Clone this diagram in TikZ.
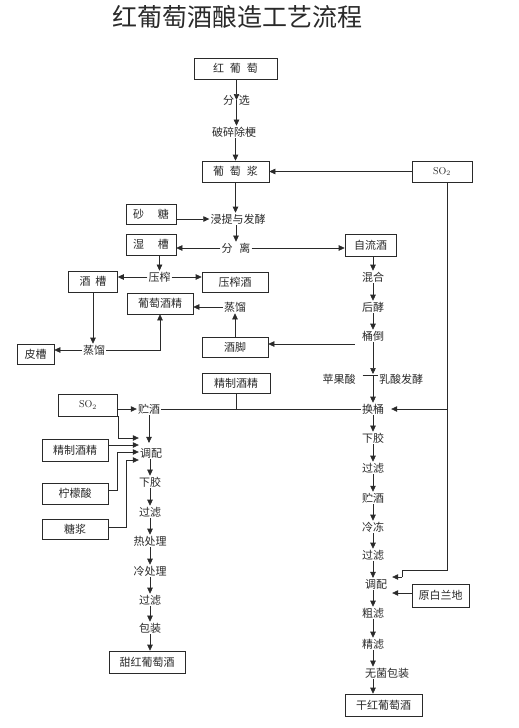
\documentclass[tikz,border=0pt]{standalone}
\usepackage{fontspec}
\newfontfamily\cjk{Noto Sans CJK SC}
\usetikzlibrary{arrows.meta,calc}
\definecolor{ink}{HTML}{2A2A2A}
\tikzset{
  box/.style={draw=ink, line width=0.6pt, inner sep=0pt, text=ink, font=\cjk\fontsize{11}{11}\selectfont},
  lbl/.style={inner sep=1pt, text=ink, font=\cjk\fontsize{11}{11}\selectfont},
  arr/.style={draw=ink, line width=0.6pt, -{Triangle[length=6pt,width=5.5pt]}},
  ln/.style={draw=ink, line width=0.6pt}
}
\begin{document}
\begin{tikzpicture}[x=1pt,y=-1pt]
\useasboundingbox[fill=white] (0,0) rectangle (519,728);
% title
\node[text=ink, font=\cjk\fontsize{25}{25}\selectfont, inner sep=0pt] (title) at (237,17) {红葡萄酒酿造工艺流程};
% top column
\node[box, minimum width=83pt, minimum height=21pt] (hpt) at (235.5,68.5) {红\hspace{6pt}葡\hspace{6pt}萄};
\node[lbl] (fx) at (236.5,100) {分\hspace{5pt}选};
\node[lbl] (psc) at (234,132) {破碎除梗};
\node[box, minimum width=67pt, minimum height=21pt] (ptj) at (235.5,171.5) {葡\hspace{6pt}萄\hspace{6pt}浆};
\node[box, minimum width=60pt, minimum height=21pt, font=\fontsize{10}{10}\selectfont] (so2a) at (442,171.5) {SO$_2$};
\node[box, minimum width=50pt, minimum height=20pt] (st) at (151,214) {砂\hspace{14pt}糖};
\node[lbl] (jt) at (238,219) {浸提与发酵};
\node[lbl] (fl) at (236,248) {分\hspace{7pt}离};
\node[box, minimum width=50pt, minimum height=21pt] (sc) at (151,244.5) {湿\hspace{14pt}槽};
\node[box, minimum width=51pt, minimum height=22pt] (zlj) at (370.5,245) {自流酒};
% press
\node[lbl] (zz) at (159.5,277) {压榨};
\node[box, minimum width=49pt, minimum height=21pt] (jc) at (93,281.5) {酒\hspace{5pt}槽};
\node[box, minimum width=66pt, minimum height=20pt] (zzj) at (235,282) {压榨酒};
\node[box, minimum width=66pt, minimum height=21pt] (pjj) at (160,303.5) {葡萄酒精};
\node[lbl] (zl2) at (235,307) {蒸馏};
\node[box, minimum width=66pt, minimum height=20pt] (jj) at (235,347) {酒脚};
\node[lbl] (zl1) at (94,350) {蒸馏};
\node[box, minimum width=37pt, minimum height=20pt] (pc) at (35.5,354) {皮槽};
% centre column
\node[lbl] (hh) at (373,277) {混合};
\node[lbl] (hj) at (373,307) {后酵};
\node[lbl] (td) at (373,336) {桶倒};
\coordinate (bar) at (373,375);
\node[lbl] (pgs) at (339,379) {苹果酸};
\node[lbl] (rsf) at (401,379) {乳酸发酵};
\node[lbl] (ht) at (373,409) {换桶};
\node[lbl] (xj2) at (373,438) {下胶};
\node[lbl] (gl3) at (373,468) {过滤};
\node[lbl] (zj2) at (373,498) {贮酒};
\node[lbl] (ld) at (373,527) {冷冻};
\node[lbl] (gl4) at (373,555) {过滤};
\node[lbl] (tp2) at (376,584) {调配};
\node[lbl] (cl) at (373,613) {粗滤};
\node[lbl] (jl) at (373,644) {精滤};
\node[lbl] (wj) at (387,673) {无菌包装};
\node[box, minimum width=77pt, minimum height=22pt] (ghp) at (383.5,705) {干红葡萄酒};
\node[box, minimum width=57pt, minimum height=23pt] (ybl) at (440.5,595.5) {原白兰地};
% left lower branch
\node[box, minimum width=68pt, minimum height=20pt] (jzjj) at (236,383) {精制酒精};
\node[box, minimum width=59pt, minimum height=22pt, font=\fontsize{10}{10}\selectfont] (so2b) at (88,405) {SO$_2$};
\node[lbl] (zj1) at (149,409) {贮酒};
\node[box, minimum width=66pt, minimum height=22pt] (jz1) at (75,450) {精制酒精};
\node[box, minimum width=66pt, minimum height=21pt] (nms) at (75,493.5) {柠檬酸};
\node[box, minimum width=66pt, minimum height=20pt] (tj) at (75,529) {糖浆};
\node[lbl] (tp1) at (151,453) {调配};
\node[lbl] (xj1) at (150,482) {下胶};
\node[lbl] (gl1) at (150,512) {过滤};
\node[lbl] (rcl) at (150,541) {热处理};
\node[lbl] (lcl) at (150,571) {冷处理};
\node[lbl] (gl2) at (150,600) {过滤};
\node[lbl] (bz) at (150,628) {包装};
\node[box, minimum width=76pt, minimum height=22pt] (thp) at (147,662) {甜红葡萄酒};
% SO2 side line coordinates
\coordinate (v2) at (447,570);
\coordinate (v3) at (402,570);
\coordinate (v4) at (402,577);

% ---- connectors: top
\draw[arr] (hpt.south -| fx.center) -- (fx.center);
\draw[arr] (fx.center) -- (fx.center |- psc.north);
\draw[arr] (psc.south -| ptj.north) -- (ptj.north);
\draw[arr] (so2a.west) -- (ptj.east);
\draw[arr] (ptj.south) -- (ptj.south |- jt.north);
\draw[arr] ([yshift=-5pt]st.east) -- (jt.west);
\draw[arr] (jt.south -| fl.north) -- (fl.north);
\draw[arr] (fl.west) -- (fl.west -| sc.east);
\draw[arr] (fl.east) -- (fl.east -| zlj.west);
\draw[arr] (zz |- sc.south) -- (zz.north);
\draw[arr] (zz.west) -- (zz.west -| jc.east);
\draw[arr] (zz.east) -- (zz.east -| zzj.west);
\draw[arr] (zl2.west) -- (zl2.west -| pjj.east);
\draw[arr] (jj.north) -- (zl2.south);
\draw[arr] (jc.south) -- (jc.south |- zl1.north);
\draw[arr] (zl1.west) -- (zl1.west -| pc.east);
\draw[arr] (zl1.east) -| (pjj.south);
% centre column
\draw[arr] (zlj.south -| hh.north) -- (hh.north);
\draw[arr] (hh.south) -- (hj.north);
\draw[arr] (hj.south) -- (td.north);
\draw[arr] ([xshift=-6pt,yshift=-8pt]td.west) -- ([yshift=3pt]jj.east);
\draw[arr] (td.south) -- ([yshift=1pt]bar);
\draw[ln] ([xshift=6pt]pgs.east |- bar) -- (rsf.west |- bar);
\draw[arr] (bar) -- (ht.north);
\draw[arr] (ht.south) -- (xj2.north);
\draw[arr] (xj2.south) -- (gl3.north);
\draw[arr] (gl3.south) -- (zj2.north);
\draw[arr] (zj2.south) -- (ld.north);
\draw[arr] (ld.south) -- (gl4.north);
\draw[arr] (gl4.south) -- (gl4.south |- tp2.north);
\draw[arr] (gl4.south |- tp2.south) -- (cl.north);
\draw[arr] (cl.south) -- (jl.north);
\draw[arr] (jl.south) -- (jl.south |- wj.north);
\draw[arr] (jl.south |- wj.south) -- (jl.south |- ghp.north);
% SO2 right line
\draw[ln] ([xshift=5pt]so2a.south) -- (v2) -- (v3) -- (v4);
\draw[arr] (v4) -- ([xshift=4pt]tp2.east |- v4);
\draw[arr] (v2 |- ht.east) -- ([xshift=6pt]ht.east);
\draw[arr] ([yshift=2.5pt]ybl.west) -- ([xshift=4pt,yshift=2.5pt]tp2.east |- ybl.west);
% left lower branch
\draw[arr] ([yshift=-4pt]so2b.east) -- (zj1.west);
\draw[ln] (zj1.east) -- (ht.west);
\draw[ln] (jzjj.south) -- (jzjj.south |- zj1.east);
\draw[arr] (zj1.south) -- ([yshift=4pt]zj1.south |- tp1.north);
\draw[arr] (so2b.south east) |- ([yshift=15pt]tp1.west);
\draw[arr] ([yshift=5pt]jz1.east) -- ([yshift=8pt]tp1.west);
\draw[arr] ([yshift=3.5pt]nms.east) -- ++(9,0) |- ([yshift=1pt]tp1.west);
\draw[arr] ([yshift=2pt]tj.east) -- ++(18,0) |- ([yshift=-7pt]tp1.west);
\draw[arr] (tp1.south -| xj1.north) -- (xj1.north);
\draw[arr] (xj1.south) -- (gl1.north);
\draw[arr] (gl1.south) -- (rcl.north);
\draw[arr] (rcl.south) -- (lcl.north);
\draw[arr] (lcl.south) -- (gl2.north);
\draw[arr] (gl2.south) -- (bz.north);
\draw[arr] (bz.south) -- (bz.south |- thp.north);
\end{tikzpicture}
\end{document}
